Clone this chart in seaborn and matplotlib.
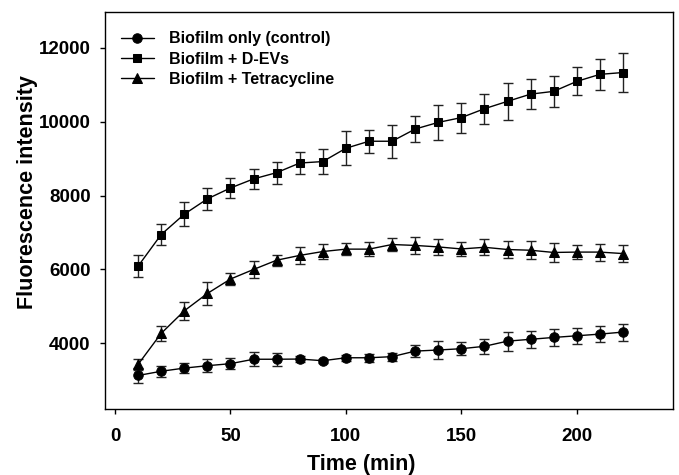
import numpy as np
import pandas as pd
import matplotlib
matplotlib.use("Agg")
import matplotlib.pyplot as plt
import seaborn as sns

time = [10, 20, 30, 40, 50, 60, 70, 80, 90, 100, 110, 120, 130, 140, 150,
        160, 170, 180, 190, 200, 210, 220]

control = [3130, 3245, 3330, 3395, 3450, 3570, 3570, 3575, 3530, 3610, 3610,
           3640, 3790, 3820, 3855, 3920, 4060, 4110, 4160, 4205, 4250, 4305]
control_err = [200, 150, 130, 170, 150, 190, 170, 80, 50, 80, 110,
               110, 170, 240, 170, 210, 260, 230, 240, 220, 210, 230]

devs = [6090, 6945, 7495, 7910, 8205, 8450, 8620, 8880, 8920, 9280, 9470,
        9470, 9800, 9980, 10110, 10350, 10550, 10745, 10820, 11090, 11280, 11330]
devs_err = [300, 280, 320, 300, 275, 270, 300, 290, 345, 460, 315,
            445, 350, 475, 405, 400, 505, 405, 410, 380, 415, 520]

tetra = [3430, 4270, 4880, 5350, 5740, 6000, 6250, 6380, 6485, 6550, 6550,
         6675, 6650, 6610, 6555, 6600, 6540, 6520, 6460, 6470, 6470, 6430]
tetra_err = [150, 200, 250, 300, 170, 220, 150, 220, 200, 170, 180,
             180, 220, 220, 180, 220, 220, 250, 250, 200, 230, 240]

groups = ["Biofilm only (control)", "Biofilm + D-EVs", "Biofilm + Tetracycline"]
values = [control, devs, tetra]
errors = [control_err, devs_err, tetra_err]
markers = {"Biofilm only (control)": "o", "Biofilm + D-EVs": "s",
           "Biofilm + Tetracycline": "^"}
msizes = {"Biofilm only (control)": 6.8, "Biofilm + D-EVs": 6.3,
          "Biofilm + Tetracycline": 7.0}

df = pd.concat([pd.DataFrame({"Time": time, "Value": v, "Err": e, "Group": g})
                for g, v, e in zip(groups, values, errors)], ignore_index=True)

sns.set_style("ticks")
plt.rcParams['font.family'] = ['Liberation Sans', 'DejaVu Sans']
plt.rcParams['font.weight'] = 'bold'
for k in ['text.color', 'axes.labelcolor', 'xtick.color', 'ytick.color',
          'xtick.labelcolor', 'ytick.labelcolor']:
    plt.rcParams[k] = 'black'

fig = plt.figure(figsize=(6.79, 4.75), dpi=100)
ax = fig.add_axes([0.1551, 0.1383, 0.8365, 0.837])

for g in groups:
    sub = df[df.Group == g]
    ax.errorbar(sub.Time, sub.Value, yerr=sub.Err, fmt='none', ecolor='#222222',
                elinewidth=1.0, capsize=3.8, capthick=1.0, zorder=2)

for g in groups:
    sub = df[df.Group == g]
    sns.lineplot(data=sub, x="Time", y="Value", ax=ax, color='black',
                 marker=markers[g], markersize=msizes[g], markeredgecolor='black',
                 linewidth=1.0, label=g, errorbar=None, zorder=3)

ax.set_xlim(-4.2, 241.8)
ax.set_ylim(2215, 12975)
ax.set_xticks([0, 50, 100, 150, 200])
ax.set_yticks([4000, 6000, 8000, 10000, 12000])
ax.tick_params(axis='both', direction='out', length=3.6, width=1, color='black',
               labelsize=13.5, labelcolor='black')
ax.tick_params(axis='x', pad=9.5)
ax.tick_params(axis='y', pad=7)
for lab in ax.get_xticklabels() + ax.get_yticklabels():
    lab.set_fontweight('bold')
for s in ax.spines.values():
    s.set_visible(True)
    s.set_linewidth(1.0)
    s.set_color('black')

ax.set_xlabel("Time (min)", fontsize=15.5, fontweight='bold', color='black')
ax.set_ylabel("Fluorescence intensity", fontsize=15.5, fontweight='bold', color='black')
ax.xaxis.set_label_coords(0.451, -0.112)
ax.yaxis.set_label_coords(-0.118, 0.546)

leg = ax.legend(loc='upper left', bbox_to_anchor=(0.0158, 0.967), frameon=False,
                handlelength=2.1, handletextpad=0.9, labelspacing=0.33,
                borderaxespad=0.0, borderpad=0.4,
                prop={'weight': 'bold', 'size': 11.5})
for t in leg.get_texts():
    t.set_color('black')

fig.savefig("out.png", dpi=100)
